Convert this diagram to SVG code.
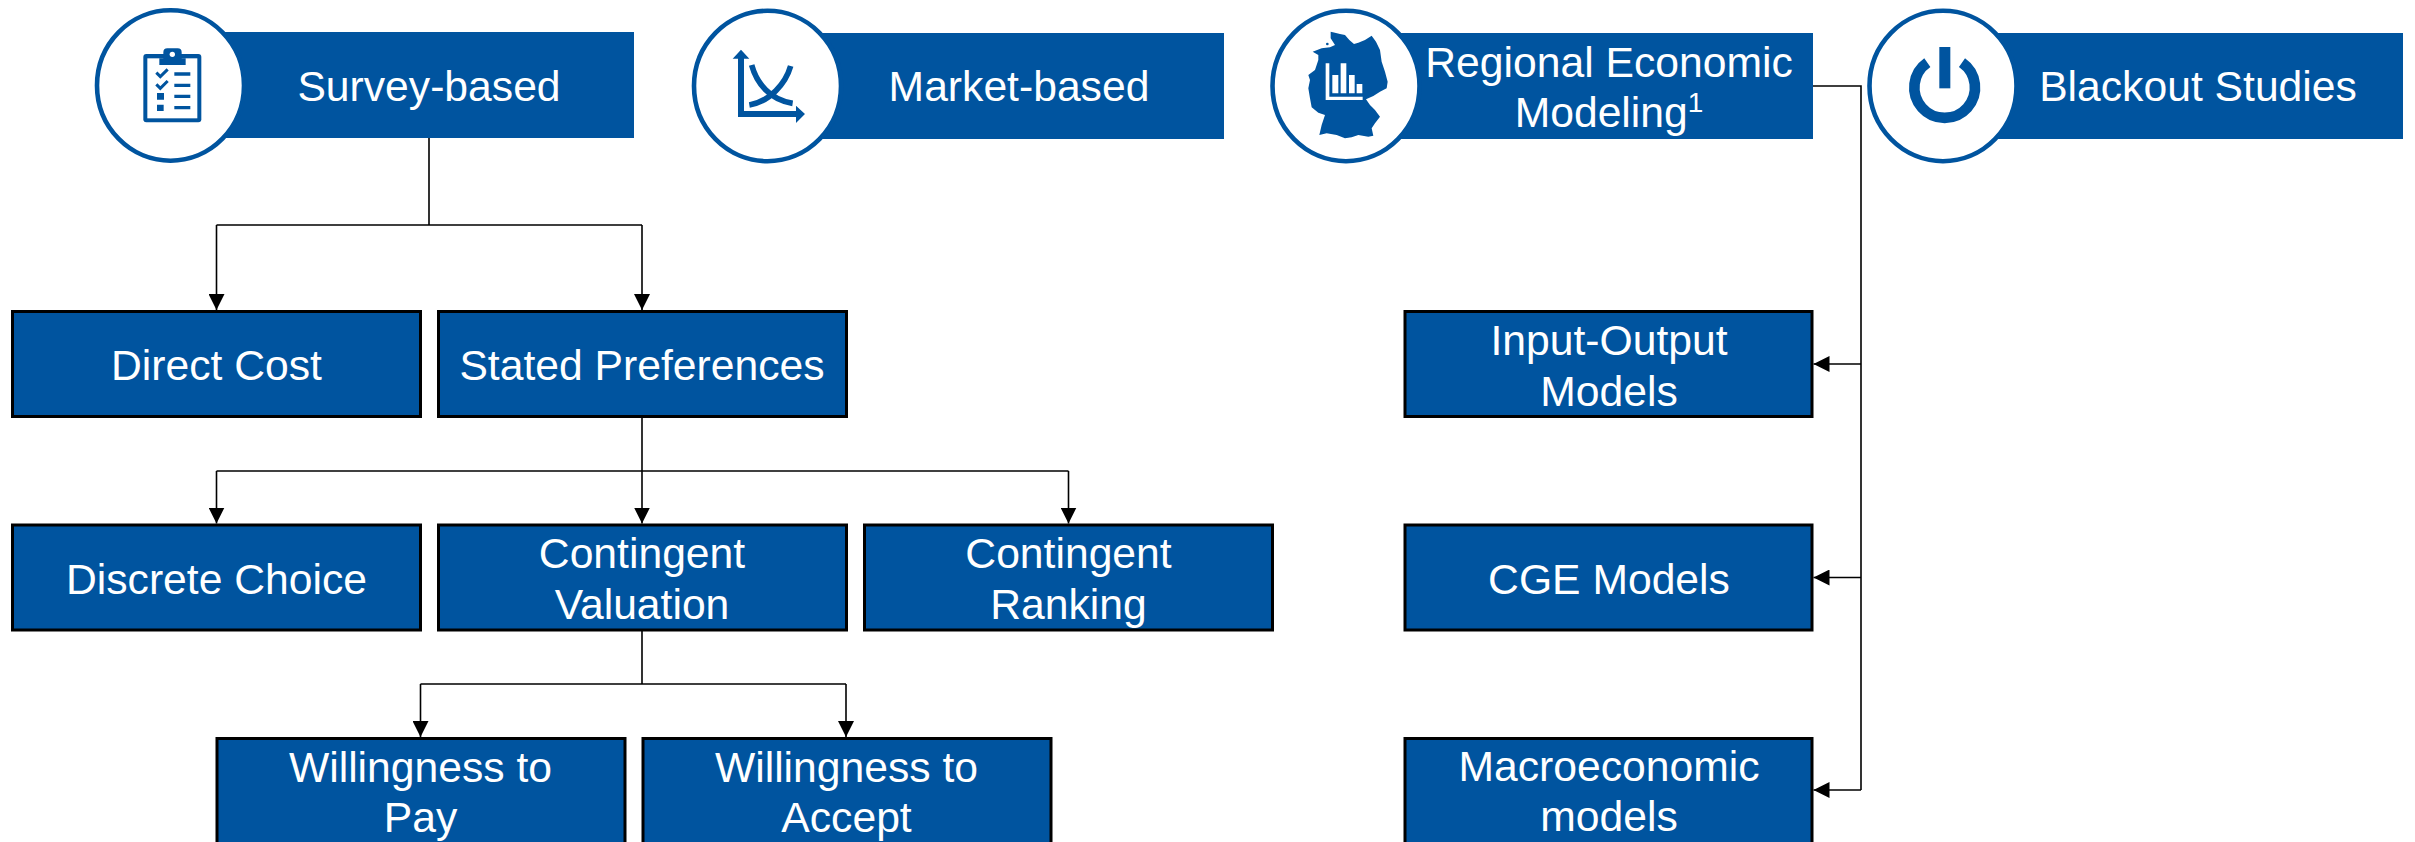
<svg xmlns="http://www.w3.org/2000/svg" width="2415" height="842" viewBox="0 0 2415 842">
<style>
.box{fill:#00549F;stroke:#000;stroke-width:3}
.hdr{fill:#00549F}
.ring{fill:#fff;stroke:#00549F;stroke-width:4.6}
.lbl{font-family:"Liberation Sans",Arial,sans-serif;font-size:42.67px;fill:#fff;text-anchor:middle}
.con{fill:none;stroke:#000;stroke-width:1.6}
.arr{marker-end:url(#ah)}
.ic{fill:#00549F}
.icl{fill:none;stroke:#00549F}
.wh{fill:#fff}
</style>
<defs>
<marker id="ah" markerUnits="userSpaceOnUse" markerWidth="16" markerHeight="16" refX="16" refY="8" orient="auto"><path d="M0 0L16 8L0 16Z" fill="#000"/></marker>
</defs>
<rect width="2415" height="842" fill="#fff"/>
<g id="connectors">
<path class="con" d="M429 138V225M216.500 225H642"/>
<path class="con arr" d="M216.500 225V310"/>
<path class="con arr" d="M642 225V310"/>
<path class="con" d="M216.500 471H1068.500"/>
<path class="con arr" d="M642 417V523.500"/>
<path class="con arr" d="M216.500 471V523.500"/>
<path class="con arr" d="M1068.500 471V523.500"/>
<path class="con" d="M642 631V684M420.500 684H846"/>
<path class="con arr" d="M420.500 684V737"/>
<path class="con arr" d="M846 684V737"/>
<path class="con" d="M1813 86H1861V790"/>
<path class="con arr" d="M1861 364H1813.500"/>
<path class="con arr" d="M1861 577.500H1813.500"/>
<path class="con arr" d="M1861 790H1813.500"/>
</g>
<g id="survey-based">
<rect class="hdr" x="200" y="32" width="434" height="106"/>
<ellipse class="ring" cx="170.500" cy="85.500" rx="73.500" ry="75.200"/>
<g transform="translate(130 35) scale(.3333)">
<rect class="ic" x="40" y="57" width="174" height="205" rx="9"/>
<rect class="wh" x="52" y="70" width="150" height="180"/>
<path class="ic" d="M88 70H100V52Q100 40 112 40H143Q155 40 155 52V70H167V90H88Z"/>
<circle class="wh" cx="127" cy="58" r="8"/>
<path class="icl" stroke-width="9" d="M79 113L91 125L113 103M79 148L91 160L113 138"/>
<path class="ic" d="M133 112H181V122H133ZM133 146H181V156H133ZM133 179H181V189H133ZM133 213H181V223H133ZM81 174H102V194H81ZM81 209H101V228H81Z"/>
</g>
<text class="lbl" x="429" y="101">Survey-based</text>
</g>
<g id="market-based">
<rect class="hdr" x="797" y="33" width="427" height="106"/>
<ellipse class="ring" cx="767.500" cy="86" rx="73.500" ry="75.200"/>
<g transform="translate(720 40) scale(.3333)">
<path class="icl" stroke-width="18" d="M63 50V222H230"/>
<path class="ic" d="M38 56L63 29L88 56ZM228 197L255 222L228 249Z"/>
<path class="icl" stroke-width="17" d="M95 75C110 130 150 180 218 190M212 78C197 130 150 185 88 195"/>
</g>
<text class="lbl" x="1019" y="101">Market-based</text>
</g>
<g id="regional-economic-modeling">
<rect class="hdr" x="1376" y="33" width="437" height="106"/>
<ellipse class="ring" cx="1346" cy="86" rx="73.500" ry="75.200"/>
<g transform="translate(1290 20) scale(.3333)">
<path class="ic" d="M122 35L135 38L150 42L165 45L178 60L192 72L205 68L225 60L245 47L258 65L270 90L275 125L285 155L293 185L290 205L270 215L250 228L228 238L240 255L255 270L270 290L255 310L245 325L250 347L235 350L205 345L185 352L165 355L140 345L110 340L88 345L95 315L105 285L85 278L65 262L60 235L55 205L60 180L55 165L75 150L85 120L85 105L68 95L95 85L120 82L135 75L122 55Z"/>
<circle class="ic" cx="112" cy="72" r="4"/>
<path class="wh" d="M107 130H118V230H218V240H107ZM127 165H145V220H127ZM152 130H169V220H152ZM177 165H194V220H177ZM200 192H217V220H200Z"/>
</g>
<text class="lbl" x="1609" y="77">Regional Economic</text>
<text class="lbl" x="1609" y="127">Modeling<tspan font-size="28" dy="-15">1</tspan></text>
</g>
<g id="blackout-studies">
<rect class="hdr" x="1973" y="33" width="430" height="106"/>
<ellipse class="ring" cx="1943" cy="86" rx="73.500" ry="75.200"/>
<g transform="translate(1895 35) scale(.3333)">
<path class="icl" stroke-width="32" d="M97 83A91 91 0 1 0 201 83"/>
<rect class="ic" x="133" y="36" width="33" height="124"/>
</g>
<text class="lbl" x="2198" y="101">Blackout Studies</text>
</g>
<g id="direct-cost"><rect class="box" x="12.500" y="311.500" width="408" height="105"/><text class="lbl" x="216.500" y="380">Direct Cost</text></g>
<g id="stated-preferences"><rect class="box" x="438.500" y="311.500" width="408" height="105"/><text class="lbl" x="642" y="380">Stated Preferences</text></g>
<g id="discrete-choice"><rect class="box" x="12.500" y="525" width="408" height="105"/><text class="lbl" x="216.500" y="594">Discrete Choice</text></g>
<g id="contingent-valuation"><rect class="box" x="438.500" y="525" width="408" height="105"/><text class="lbl" x="642" y="568">Contingent</text><text class="lbl" x="642" y="619">Valuation</text></g>
<g id="contingent-ranking"><rect class="box" x="864.500" y="525" width="408" height="105"/><text class="lbl" x="1068.500" y="568">Contingent</text><text class="lbl" x="1068.500" y="619">Ranking</text></g>
<g id="willingness-to-pay"><rect class="box" x="217" y="738.500" width="408" height="105"/><text class="lbl" x="420.500" y="782">Willingness to</text><text class="lbl" x="420.500" y="832">Pay</text></g>
<g id="willingness-to-accept"><rect class="box" x="643" y="738.500" width="408" height="105"/><text class="lbl" x="846.500" y="782">Willingness to</text><text class="lbl" x="846.500" y="832">Accept</text></g>
<g id="input-output-models"><rect class="box" x="1405" y="311.500" width="407" height="105"/><text class="lbl" x="1609" y="355">Input-Output</text><text class="lbl" x="1609" y="406">Models</text></g>
<g id="cge-models"><rect class="box" x="1405" y="525" width="407" height="105"/><text class="lbl" x="1609" y="594">CGE Models</text></g>
<g id="macroeconomic-models"><rect class="box" x="1405" y="738.500" width="407" height="105"/><text class="lbl" x="1609" y="781">Macroeconomic</text><text class="lbl" x="1609" y="831">models</text></g>
</svg>
